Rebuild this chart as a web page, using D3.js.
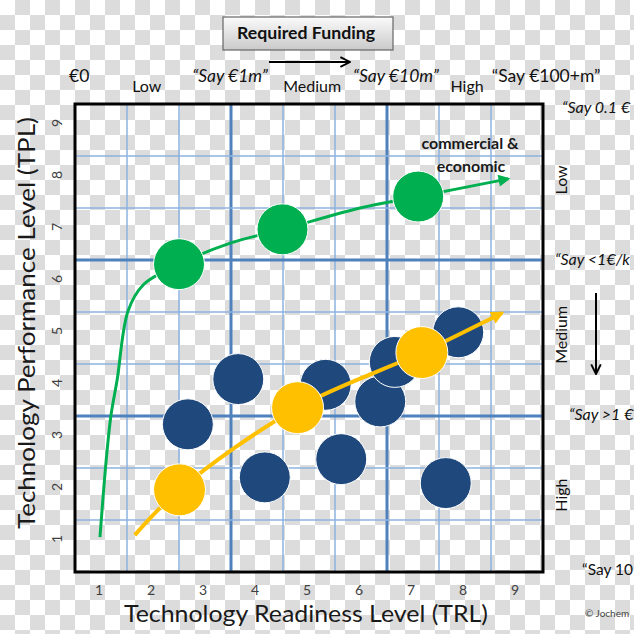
<!DOCTYPE html>
<html><head><meta charset="utf-8">
<script src="https://cdn.jsdelivr.net/npm/d3@7"></script>
<style>html,body{margin:0;padding:0;background:#fff;}svg{display:block;}</style>
</head><body>
<svg id="chart" width="634" height="634"></svg>
<script>
// ---------- data ----------
const trlTicks = [1, 2, 3, 4, 5, 6, 7, 8, 9];
const tplTicks = [1, 2, 3, 4, 5, 6, 7, 8, 9];
const gridLines = [1.5, 2.5, 3.5, 4.5, 5.5, 6.5, 7.5, 8.5];
const majorLines = [3.5, 6.5];

const blueTRL = [2.67, 3.64, 5.32, 4.15, 5.62, 6.37, 6.65, 7.87, 7.63];
const blueTPL = [3.34, 4.21, 4.10, 2.32, 2.67, 3.78, 4.54, 5.11, 2.21];

const yellowTRL = [2.51, 4.78, 7.17];
const yellowTPL = [2.08, 3.66, 4.72];

const greenTRL = [2.50, 4.49, 7.10];
const greenTPL = [6.42, 7.09, 7.72];

const greenPathTRL = [0.98, 1.10, 1.19, 1.31, 1.52, 1.81, 2.50, 3.50, 4.50, 5.98, 7.10, 8.83];
const greenPathTPL = [1.17, 2.65, 3.50, 4.19, 5.52, 6.02, 6.42, 6.83, 7.09, 7.50, 7.72, 8.06];

const yellowPathTRL = [1.65, 2.51, 4.78, 7.17, 8.71];
const yellowPathTPL = [1.21, 2.08, 3.66, 4.72, 5.48];

const fundingAmounts = ["€0", "“Say €1m”", "“Say €10m”", "“Say €100+m”"];
const fundingAmountAt = [0.58, 3.48, 6.67, 9.56];
const fundingLevels = ["Low", "Medium", "High"];
const fundingLevelAt = [1.88, 5.06, 8.04];

const perfAmounts = ["“Say 0.1 €", "“Say <1€/k", "“Say >1 €", "“Say 10"];
const perfAmountAt = [9.5, 6.5, 3.5, 0.5];
const perfLevels = ["Low", "Medium", "High"];
const perfLevelAt = [8.04, 5.06, 1.98];

// ---------- layout ----------
const svg = d3.select("#chart");
const W = 634, H = 634;
const x = d3.scaleLinear().domain([0.5, 9.5]).range([75, 543]);
const y = d3.scaleLinear().domain([0.5, 9.5]).range([572, 104]);
const bubbleR = x(0.49) - x(0);
const FONT = "Lato, 'Open Sans', sans-serif";

const defs = svg.append("defs");
const pat = defs.append("pattern").attr("id", "checker")
  .attr("patternUnits", "userSpaceOnUse").attr("width", 30).attr("height", 30);
pat.append("rect").attr("width", 30).attr("height", 30).attr("fill", "#ffffff");
pat.append("rect").attr("x", 15).attr("y", 0).attr("width", 15).attr("height", 15).attr("fill", "#dcdcdc");
pat.append("rect").attr("x", 0).attr("y", 15).attr("width", 15).attr("height", 15).attr("fill", "#dcdcdc");

const grad = defs.append("linearGradient").attr("id", "btn").attr("x1", 0).attr("y1", 0).attr("x2", 0).attr("y2", 1);
grad.append("stop").attr("offset", "0%").attr("stop-color", "#fbfbfb");
grad.append("stop").attr("offset", "100%").attr("stop-color", "#c9c9c9");

function arrowMarker(id, color, w, h) {
  defs.append("marker").attr("id", id)
    .attr("viewBox", "0 0 10 10").attr("refX", 8).attr("refY", 5)
    .attr("markerWidth", w).attr("markerHeight", h)
    .attr("markerUnits", "userSpaceOnUse").attr("orient", "auto")
    .append("path").attr("d", "M0,0 L10,5 L0,10 Z").attr("fill", color);
}
arrowMarker("arrGreen", "#00b050", 14, 12);
arrowMarker("arrYellow", "#ffc000", 14, 13);
defs.append("marker").attr("id", "arrBlack")
  .attr("viewBox", "0 0 10 10").attr("refX", 9).attr("refY", 5)
  .attr("markerWidth", 12).attr("markerHeight", 12)
  .attr("markerUnits", "userSpaceOnUse").attr("orient", "auto")
  .append("path").attr("d", "M1,1 L9,5 L1,9").attr("fill", "none")
  .attr("stroke", "#000").attr("stroke-width", 1.6);

svg.append("rect").attr("width", W).attr("height", H).attr("fill", "url(#checker)");

// ---------- grid ----------
const g = svg.append("g");
g.selectAll("line.vx").data(gridLines).join("line")
  .attr("x1", d => x(d)).attr("x2", d => x(d)).attr("y1", y(9.5)).attr("y2", y(0.5))
  .attr("stroke", d => majorLines.includes(d) ? "#4f81bd" : "#8db3e2")
  .attr("stroke-width", d => majorLines.includes(d) ? 3 : 1.5);
g.selectAll("line.hy").data(gridLines).join("line")
  .attr("y1", d => y(d)).attr("y2", d => y(d)).attr("x1", x(0.5)).attr("x2", x(9.5))
  .attr("stroke", d => majorLines.includes(d) ? "#4f81bd" : "#8db3e2")
  .attr("stroke-width", d => majorLines.includes(d) ? 3 : 1.5);

// ---------- ticks ----------
svg.append("g").selectAll("text").data(trlTicks).join("text")
  .attr("x", d => x(d) - 2).attr("y", 595)
  .attr("text-anchor", "middle").attr("font-family", FONT).attr("font-size", 14)
  .attr("fill", "#404040").text(d => d);
svg.append("g").selectAll("text").data(tplTicks).join("text")
  .attr("transform", d => `translate(62,${y(d) - 7}) rotate(-90)`)
  .attr("text-anchor", "middle").attr("font-family", FONT).attr("font-size", 14)
  .attr("fill", "#404040").text(d => d);

// axis titles
svg.append("text").attr("x", 306).attr("y", 622).attr("text-anchor", "middle")
  .attr("font-family", FONT).attr("font-size", 23).attr("fill", "#1a1a1a")
  .attr("textLength", 364).attr("lengthAdjust", "spacingAndGlyphs")
  .text("Technology Readiness Level (TRL)");
svg.append("text").attr("transform", "translate(35,323) rotate(-90)").attr("text-anchor", "middle")
  .attr("font-family", FONT).attr("font-size", 23).attr("fill", "#1a1a1a")
  .attr("textLength", 412).attr("lengthAdjust", "spacingAndGlyphs")
  .text("Technology Performance Level (TPL)");

// ---------- series ----------
const line = d3.line().x(d => x(d[0])).y(d => y(d[1])).curve(d3.curveCatmullRom.alpha(0.5));

// blue bubbles
svg.append("g").selectAll("circle").data(d3.zip(blueTRL, blueTPL)).join("circle")
  .attr("cx", d => x(d[0])).attr("cy", d => y(d[1])).attr("r", bubbleR)
  .attr("fill", "#1f497d").attr("stroke", "#ffffff").attr("stroke-width", 1);

// yellow path + bubbles
svg.append("path").datum(d3.zip(yellowPathTRL, yellowPathTPL))
  .attr("d", line).attr("fill", "none").attr("stroke", "#ffc000").attr("stroke-width", 4)
  .attr("marker-end", "url(#arrYellow)");
svg.append("g").selectAll("circle").data(d3.zip(yellowTRL, yellowTPL)).join("circle")
  .attr("cx", d => x(d[0])).attr("cy", d => y(d[1])).attr("r", bubbleR + 0.5)
  .attr("fill", "#ffc000").attr("stroke", "#ffffff").attr("stroke-width", 1);

// green path + bubbles
svg.append("path").datum(d3.zip(greenPathTRL, greenPathTPL))
  .attr("d", line).attr("fill", "none").attr("stroke", "#00b050").attr("stroke-width", 3)
  .attr("marker-end", "url(#arrGreen)");
svg.append("g").selectAll("circle").data(d3.zip(greenTRL, greenTPL)).join("circle")
  .attr("cx", d => x(d[0])).attr("cy", d => y(d[1])).attr("r", bubbleR)
  .attr("fill", "#00b050").attr("stroke", "#ffffff").attr("stroke-width", 1);

// annotation
const ann = svg.append("text").attr("text-anchor", "middle").attr("font-family", FONT)
  .attr("font-weight", "bold").attr("font-size", 16).attr("fill", "#1a1a1a");
ann.append("tspan").attr("x", 470).attr("y", 149).text("commercial &");
ann.append("tspan").attr("x", 471).attr("y", 172).text("economic");

// frame
svg.append("rect").attr("x", x(0.5)).attr("y", y(9.5)).attr("width", x(9.5) - x(0.5))
  .attr("height", y(0.5) - y(9.5)).attr("fill", "none").attr("stroke", "#000").attr("stroke-width", 3);

// ---------- top funding header ----------
svg.append("rect").attr("x", 223).attr("y", 17).attr("width", 170).attr("height", 33)
  .attr("fill", "url(#btn)").attr("stroke", "#666").attr("stroke-width", 1.2);
svg.append("text").attr("x", 306).attr("y", 39).attr("text-anchor", "middle")
  .attr("font-family", FONT).attr("font-weight", "bold").attr("font-size", 17).attr("fill", "#111")
  .attr("textLength", 138).attr("lengthAdjust", "spacingAndGlyphs")
  .text("Required Funding");
svg.append("line").attr("x1", 269).attr("x2", 350).attr("y1", 62).attr("y2", 62)
  .attr("stroke", "#000").attr("stroke-width", 2).attr("marker-end", "url(#arrBlack)");

svg.append("g").selectAll("text").data(fundingAmounts).join("text")
  .attr("x", (d, i) => x(fundingAmountAt[i])).attr("y", 82).attr("text-anchor", "middle")
  .attr("font-family", FONT).attr("font-size", 17.5)
  .attr("font-style", (d, i) => (i === 1 || i === 2) ? "italic" : "normal")
  .attr("fill", "#111").text(d => d);
svg.append("g").selectAll("text").data(fundingLevels).join("text")
  .attr("x", (d, i) => x(fundingLevelAt[i])).attr("y", 92).attr("text-anchor", "middle")
  .attr("font-family", FONT).attr("font-size", 16).attr("fill", "#111").text(d => d);

// ---------- right performance labels ----------
svg.append("g").selectAll("text").data(perfAmounts).join("text")
  .attr("x", (d, i) => [562, 555, 569, 582][i]).attr("y", (d, i) => y(perfAmountAt[i]) + [9, 5, 4, 3][i])
  .attr("font-family", FONT).attr("font-size", (d, i) => i === 3 ? 15.5 : 16)
  .attr("font-style", (d, i) => i === 3 ? "normal" : "italic")
  .attr("fill", "#111").text(d => d);
svg.append("g").selectAll("text").data(perfLevels).join("text")
  .attr("transform", (d, i) => `translate(567,${y(perfLevelAt[i])}) rotate(-90)`)
  .attr("text-anchor", "middle").attr("font-family", FONT).attr("font-size", 16)
  .attr("fill", "#111").text(d => d);
svg.append("line").attr("x1", 596).attr("x2", 596).attr("y1", 293).attr("y2", 374)
  .attr("stroke", "#000").attr("stroke-width", 2).attr("marker-end", "url(#arrBlack)");

svg.append("text").attr("x", 585).attr("y", 617).attr("font-family", FONT).attr("font-size", 10)
  .attr("fill", "#444").text("© Jochem");
</script>
</body></html>
